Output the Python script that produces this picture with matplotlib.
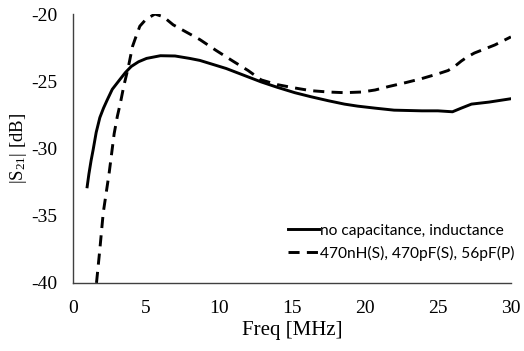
import matplotlib
matplotlib.use("Agg")
import matplotlib.pyplot as plt

plt.rcParams['font.family'] = ['Liberation Serif', 'DejaVu Serif']
plt.rcParams['mathtext.fontset'] = 'custom'
plt.rcParams['mathtext.rm'] = 'Liberation Serif'
plt.rcParams['mathtext.it'] = 'Liberation Serif:italic'
plt.rcParams['axes.unicode_minus'] = False

# solid: no capacitance, inductance
f1 = [0.98, 1.1, 1.25, 1.39, 1.6, 1.85, 2.1, 2.35, 2.7, 3.2, 3.6, 4.0, 4.5, 5.05,
      6.0, 7.0, 8.0, 8.7, 9.6, 10.5, 11.7, 12.9, 14.0, 15.2, 16.3, 17.5, 18.6,
      19.5, 20.7, 22.0, 23.9, 25.0, 26.0, 26.6, 27.3, 28.5, 30.0]
s1 = [-32.85, -31.9, -30.9, -30.1, -28.8, -27.7, -27.0, -26.4, -25.6, -24.9,
      -24.35, -23.9, -23.55, -23.3, -23.1, -23.12, -23.3, -23.45, -23.75, -24.05,
      -24.55, -25.05, -25.45, -25.85, -26.15, -26.45, -26.7, -26.85, -27.0, -27.15,
      -27.2, -27.2, -27.27, -27.0, -26.7, -26.55, -26.3]

# dashed: 470nH(S), 470pF(S), 56pF(P)
f2 = [1.62, 1.85, 2.08, 2.49, 2.83, 3.05, 3.26, 3.5, 3.79, 4.09, 4.35, 4.59, 5.0,
      5.62, 6.2, 6.87, 7.7, 8.7, 9.8, 10.96, 12.0, 12.9, 14.0, 15.2, 16.3, 17.5,
      18.6, 19.8, 20.7, 21.6, 22.8, 23.9, 25.0, 25.7, 26.2, 26.6, 27.0, 27.5,
      28.2, 28.9, 30.0]
s2 = [-40.0, -37.5, -34.8, -31.8, -28.9, -27.6, -26.6, -25.3, -24.0, -22.4,
      -21.6, -20.9, -20.4, -20.0, -20.2, -20.8, -21.3, -21.9, -22.7, -23.5,
      -24.2, -24.9, -25.25, -25.5, -25.7, -25.8, -25.85, -25.8, -25.65, -25.4,
      -25.1, -24.8, -24.45, -24.2, -23.85, -23.5, -23.2, -22.9, -22.6, -22.3,
      -21.7]

fig = plt.figure(figsize=(5.24, 3.51), dpi=100)
ax = fig.add_axes([0.139, 0.194, 0.836, 0.766])

ax.plot(f1, s1, color='black', lw=2.1, label='no capacitance, inductance')
ax.plot(f2, s2, color='black', lw=2.1, ls=(0, (3.8, 2.5)),
        label='470nH(S), 470pF(S), 56pF(P)')

ax.set_xlim(0, 30)
ax.set_ylim(-40, -20)
ax.set_xticks([0, 5, 10, 15, 20, 25, 30])
ax.set_yticks([-40, -35, -30, -25, -20])
ax.tick_params(length=0, labelsize=14)
ax.tick_params(axis='x', pad=12)
ax.tick_params(axis='y', pad=11)
for s in ['top', 'right']:
    ax.spines[s].set_visible(False)
for s in ['left', 'bottom']:
    ax.spines[s].set_color('#404040')
    ax.spines[s].set_linewidth(1.0)

ax.set_xlabel('Freq [MHz]', fontsize=15, labelpad=3)
ax.set_ylabel('|S$_{21}$| [dB]', fontsize=13.5, labelpad=2)

leg = ax.legend(loc='lower right', frameon=False, prop={'family': 'Lato', 'size': 11.2},
                handlelength=2.0, handletextpad=0.05, labelspacing=0.5,
                borderaxespad=0, bbox_to_anchor=(1.022, 0.06))

fig.savefig('out.png', dpi=100)
